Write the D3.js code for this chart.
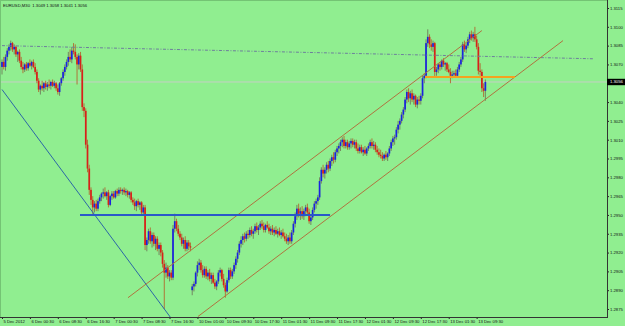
<!DOCTYPE html>
<html>
<head>
<meta charset="utf-8">
<script src="https://cdn.jsdelivr.net/npm/d3@7/dist/d3.min.js"></script>
<style>
html, body { margin: 0; padding: 0; background: #90ee90; }
svg { display: block; font-family: "Liberation Sans", Arial, sans-serif; }
</style>
</head>
<body>
<svg id="chart" width="625" height="326"></svg>
<script>
// EURUSD M30 candles, values in pips above 1.2800
var base = 1.28;
var opens = [
268,272,268,276,281,284,287,282,284,278,
280,273,268,266,270,267,271,269,272,268,
264,257,250,253,251,255,252,254,253,256,
253,255,251,248,255,259,264,268,272,276,
274,281,280,276,270,277,266,236,233,206,
187,170,162,156,159,155,161,164,167,168,
165,168,158,165,167,164,169,167,170,169,
170,168,169,166,168,162,160,157,161,158,
160,152,156,126,130,137,129,134,127,131,
123,126,120,111,104,108,101,104,100,139,
145,139,135,132,127,130,123,128,125,90,
93,95,104,110,112,106,102,107,101,104,
99,102,96,93,97,104,106,99,94,89,
98,106,101,105,110,115,120,127,130,133,
131,135,134,138,135,137,141,138,140,143,
141,138,142,140,137,139,136,138,135,137,
134,136,133,131,129,132,129,136,143,149,
155,151,153,149,153,156,152,145,148,154,
159,161,164,177,186,183,186,190,187,193,
196,194,200,203,205,208,210,205,208,204,
207,209,206,208,203,201,204,200,202,199,
203,205,208,205,206,202,200,198,197,195,
198,196,199,203,208,211,212,218,222,225,
230,234,242,248,243,247,242,245,238,242,
241,245,259,261,287,292,286,284,287,264,
266,270,268,273,270,271,266,264,261,262,
263,261,266,270,274,286,282,285,290,294,
291,294,290,284,265,264,251,249];
var highs = [
274,276,278,283,286,289,288,286,285,281,
282,276,272,271,272,272,274,273,274,271,
266,259,254,257,256,257,256,258,257,258,
257,256,254,256,260,266,270,274,280,282,
284,287,286,278,279,280,270,239,235,210,
190,172,165,161,162,163,166,168,171,172,
169,170,166,169,169,170,171,172,172,171,
172,171,170,169,169,164,163,162,163,161,
161,158,158,132,139,140,136,136,133,133,
128,128,122,114,112,110,106,106,142,151,
147,142,137,135,132,133,130,130,128,95,
97,105,113,115,114,110,109,109,106,107,
104,104,99,98,106,108,107,103,96,100,
108,108,107,112,117,122,129,133,135,136,
137,138,140,141,139,143,144,142,145,146,
144,143,145,143,141,142,140,141,139,140,
138,139,136,135,134,136,138,145,152,158,
159,156,157,155,158,159,155,150,156,161,
163,166,180,188,190,188,192,193,195,198,
200,202,205,207,210,212,213,210,210,209,
211,211,210,210,207,206,206,204,205,204,
207,210,211,209,208,205,203,202,200,199,
201,200,205,210,213,214,220,225,227,232,
236,244,250,251,249,250,247,246,244,245,
247,261,263,290,298,294,290,289,288,268,
271,272,274,275,272,272,270,267,265,265,
266,268,272,276,288,289,287,292,296,297,
296,300,293,287,271,266,255,258];
var lows = [
262,266,265,273,278,281,280,278,276,272,
271,266,263,264,265,265,268,266,267,262,
255,248,246,249,248,250,249,251,250,252,
251,249,246,245,253,257,261,266,269,272,
271,278,274,254,266,264,233,228,203,184,
166,158,150,152,153,153,159,161,163,164,
162,156,157,162,163,163,165,165,167,166,
166,165,164,163,160,158,154,153,156,154,
150,150,122,121,127,127,124,125,122,121,
118,117,108,75,100,99,97,98,98,136,
137,133,130,125,123,121,121,122,121,86,
89,93,101,106,104,100,100,99,98,97,
95,95,91,90,95,101,97,92,84,88,
96,99,99,103,107,112,118,124,126,128,
129,131,132,133,131,135,136,134,138,139,
136,136,139,135,134,134,133,134,132,133,
131,132,129,127,126,127,127,134,140,146,
148,146,147,146,149,150,143,142,146,152,
155,158,162,175,180,179,183,184,185,189,
191,192,197,199,201,204,203,203,202,202,
203,204,203,201,199,199,199,197,198,197,
201,203,203,202,200,198,196,195,193,193,
194,193,197,201,205,206,210,215,218,223,
227,232,239,240,238,240,238,236,235,238,
238,243,255,259,284,283,281,280,260,261,
263,265,266,268,265,264,263,255,259,260,
260,260,264,268,272,280,279,283,287,289,
288,288,282,262,261,248,244,241];
var closes = [
272,268,276,281,284,287,282,284,278,280,
273,268,266,270,267,271,269,272,268,264,
257,250,253,251,255,252,254,253,256,253,
255,251,248,255,259,264,268,272,276,274,
281,280,276,270,277,266,236,233,206,187,
170,162,156,159,155,161,164,167,168,165,
168,158,165,167,164,169,167,170,169,170,
168,169,166,168,162,160,157,161,158,160,
152,156,126,130,137,129,134,127,131,123,
126,120,111,104,108,101,104,100,139,145,
139,135,132,127,130,123,128,125,124,93,
95,104,110,112,106,102,107,101,104,99,
102,96,93,97,104,106,99,94,89,98,
106,101,105,110,115,120,127,130,133,131,
135,134,138,135,137,141,138,140,143,141,
138,142,140,137,139,136,138,135,137,134,
136,133,131,129,132,129,136,143,149,155,
151,153,149,153,156,152,145,148,154,159,
161,164,177,186,183,186,190,187,193,196,
194,200,203,205,208,210,205,208,204,207,
209,206,208,203,201,204,200,202,199,203,
205,208,205,206,202,200,198,197,195,198,
196,199,203,208,211,212,218,222,225,230,
234,242,248,243,247,242,245,238,242,241,
245,259,261,287,292,286,284,287,264,266,
270,268,273,270,271,266,264,261,262,263,
261,266,270,274,286,282,285,290,294,291,
294,290,284,265,264,251,249,256];

var title = "EURUSD,M30  1.3049 1.3058 1.3041 1.3056";
var lastPrice = 1.3056;
var priceTicks = [1.3115, 1.3100, 1.3085, 1.3070, 1.3040, 1.3025, 1.3010, 1.2995,
  1.2980, 1.2965, 1.2950, 1.2935, 1.2920, 1.2905, 1.2890, 1.2875];
var timeLabels = ["5 Dec 2012", "6 Dec 00:30", "6 Dec 08:30", "6 Dec 16:30", "7 Dec 00:30",
  "7 Dec 08:30", "7 Dec 16:30", "10 Dec 01:00", "10 Dec 09:30", "10 Dec 17:30", "11 Dec 01:30",
  "11 Dec 09:30", "11 Dec 17:30", "12 Dec 01:30", "12 Dec 09:30", "12 Dec 17:30",
  "13 Dec 01:30", "13 Dec 09:30"];
var barsPerLabel = 16;

// drawn objects: [bar index, price] end points
var dashTrend = [[0, 1.3085], [339, 1.30745]];
var downTrend = [[0, 1.3050], [97, 1.28675]];
var blueLevel = [[44.7, 1.2950], [188, 1.2950]];
var channelTop = [[72.2, 1.2884], [275, 1.3097]];
var channelBottom = [[112.3, 1.2869], [321.5, 1.3089]];
var orangeLevel = [[242.4, 1.3060], [294, 1.3060]];

var svg = d3.select("#chart"),
  width = 625, height = 326,
  right = 607, bottom = 317;

var n = closes.length;
var candles = d3.range(n).map(function(i) {
  return { i: i, o: base + opens[i] / 1e4, h: base + highs[i] / 1e4,
    l: base + lows[i] / 1e4, c: base + closes[i] / 1e4 };
});

var x = d3.scaleLinear().domain([0, n - 1]).range([2, 2 + 1.745 * (n - 1)]);
var y = d3.scaleLinear().domain([1.2875, 1.3115]).range([309, 8]);

svg.append("rect").attr("width", width).attr("height", height).attr("fill", "#90ee90");

svg.append("defs").append("clipPath").attr("id", "plot")
  .append("rect").attr("width", right).attr("height", bottom);
var plot = svg.append("g").attr("clip-path", "url(#plot)");

// bid line
plot.append("line")
  .attr("x1", 0).attr("x2", right)
  .attr("y1", y(lastPrice)).attr("y2", y(lastPrice))
  .attr("stroke", "#c4cfc4").attr("stroke-width", 1);

// candles
var cg = plot.append("g").selectAll("g")
  .data(candles)
  .enter().append("g");

cg.append("line")
  .attr("x1", function(d) { return x(d.i); })
  .attr("x2", function(d) { return x(d.i); })
  .attr("y1", function(d) { return y(d.h); })
  .attr("y2", function(d) { return y(d.l); })
  .attr("stroke", function(d) { return d.c >= d.o ? "#6f7a5a" : "#b06a30"; })
  .attr("stroke-width", 0.9);

cg.append("rect")
  .attr("x", function(d) { return x(d.i) - 0.85; })
  .attr("width", 1.7)
  .attr("y", function(d) { return y(Math.max(d.o, d.c)); })
  .attr("height", function(d) { return Math.max(0.9, Math.abs(y(d.o) - y(d.c))); })
  .attr("fill", function(d) { return d.c >= d.o ? "#1a22e0" : "#d8201a"; });

// objects
var line = d3.line()
  .x(function(d) { return x(d[0]); })
  .y(function(d) { return y(d[1]); });

function drawObject(pts, color, w, dash) {
  var p = plot.append("path")
    .attr("d", line(pts))
    .attr("fill", "none")
    .attr("stroke", color)
    .attr("stroke-width", w);
  if (dash) p.attr("stroke-dasharray", dash);
}

drawObject(dashTrend, "#6d7f9c", 1, "3,1.5,1,1.5");
drawObject(downTrend, "#2c67a6", 1);
drawObject(channelTop, "#b0733f", 1);
drawObject(channelBottom, "#b0733f", 1);
drawObject(blueLevel, "#2a58c8", 2);
drawObject(orangeLevel, "#f4a21e", 2);

// frame
svg.append("line").attr("x1", 0.5).attr("x2", 0.5).attr("y1", 0).attr("y2", bottom)
  .attr("stroke", "#74c474");
svg.append("line").attr("x1", 0).attr("x2", right).attr("y1", 0.5).attr("y2", 0.5)
  .attr("stroke", "#74c474");

// price axis
var yAxis = d3.axisRight(y)
  .tickValues(priceTicks)
  .tickSize(2)
  .tickPadding(1)
  .tickFormat(d3.format(".4f"));

var ya = svg.append("g")
  .attr("transform", "translate(" + right + ",0)")
  .call(yAxis);
ya.select(".domain").remove();
ya.selectAll("line").attr("stroke", "#222");
ya.selectAll("text").attr("font-size", 4.2).attr("fill", "#111")
  .attr("font-family", "Liberation Sans, Arial, sans-serif");

svg.append("line").attr("x1", right + 0.5).attr("x2", right + 0.5)
  .attr("y1", 0).attr("y2", bottom + 0.5)
  .attr("stroke", "#333").attr("stroke-width", 1);

// current price tag
svg.append("rect")
  .attr("x", right).attr("y", y(lastPrice) - 3.2)
  .attr("width", 18).attr("height", 6.4)
  .attr("fill", "#000");
svg.append("text")
  .attr("x", right + 3).attr("y", y(lastPrice))
  .attr("dy", "0.35em")
  .attr("font-size", 4.2).attr("fill", "#fff")
  .text(d3.format(".4f")(lastPrice));

// time axis
var xAxis = d3.axisBottom(x)
  .tickValues(timeLabels.map(function(t, k) { return k * barsPerLabel; }))
  .tickSize(2)
  .tickPadding(1)
  .tickFormat(function(d) { return timeLabels[d / barsPerLabel]; });

var xa = svg.append("g")
  .attr("transform", "translate(0," + bottom + ")")
  .call(xAxis);
xa.select(".domain").remove();
xa.selectAll("line").attr("stroke", "#222");
xa.selectAll("text")
  .attr("text-anchor", "start")
  .attr("dx", 1)
  .attr("font-size", 4.2).attr("fill", "#111")
  .attr("font-family", "Liberation Sans, Arial, sans-serif");

svg.append("line").attr("x1", 0).attr("x2", right + 1)
  .attr("y1", bottom + 0.5).attr("y2", bottom + 0.5)
  .attr("stroke", "#333").attr("stroke-width", 1);

// title
svg.append("text")
  .attr("x", 3).attr("y", 7)
  .attr("font-size", 4.2).attr("fill", "#111")
  .attr("xml:space", "preserve")
  .text(title);
</script>
</body>
</html>
